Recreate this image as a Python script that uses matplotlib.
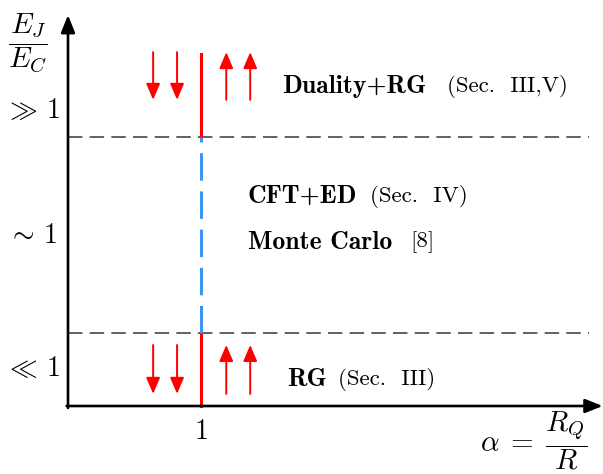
import matplotlib.pyplot as plt
import numpy as np

plt.rcParams['mathtext.fontset'] = 'cm'

# schematic phase diagram, x = alpha, y = E_J/E_C (arbitrary units)
alpha_c = 1.0
x_max = 4.02
y_max = 1.0
y_low = 0.187          # boundary of the E_J << E_C regime
y_high = 0.688         # boundary of the E_J >> E_C regime
line_top = 0.9
dash_end = 3.92

arrow_dx = [-0.36, -0.18, 0.19, 0.37]
arrow_dir = [-1, -1, 1, 1]
arrow_upper = (0.783, 0.905)
arrow_lower = (0.031, 0.156)

level_labels = [r'$\gg\,1$', r'$\sim\,1$', r'$\ll\,1$']
level_y = [0.757, 0.437, 0.097]

bold_texts = ['Duality+RG', 'CFT+ED', 'Monte Carlo', 'RG']
plain_texts = ['(Sec.  III,V)', '(Sec.  IV)', '[8]', '(Sec.  III)']
text_x = [1.609, 1.353, 1.353, 1.647]
plain_x = [2.85, 2.27, 2.571, 2.03]
text_y = [0.816, 0.535, 0.419, 0.069]

fig = plt.figure(figsize=(6.03, 4.74), dpi=100)
ax = fig.add_axes([0, 0, 1, 1])
ax.set_xlim(-68 / 133, (603 - 68) / 133)
ax.set_ylim(-(474 - 406) / 391, 406 / 391)
ax.axis('off')

# axes arrows
axis_style = dict(arrowstyle='-|>,head_length=0.75,head_width=0.3', color='black',
                  lw=1.9, mutation_scale=14, shrinkA=0, shrinkB=0)
ax.annotate('', xy=(x_max, 0), xytext=(-0.01, 0), arrowprops=axis_style)
ax.annotate('', xy=(0, y_max), xytext=(0, -0.005), arrowprops=axis_style)

# regime boundaries
for yb in [y_low, y_high]:
    ax.plot([0, dash_end], [yb, yb], color='#555555', lw=1.3, dashes=(8, 4), zorder=1)

# critical line at alpha = 1
ax.plot([alpha_c, alpha_c], [0, y_low], color='red', lw=2.2, zorder=2)
ax.plot([alpha_c, alpha_c], [y_high, line_top], color='red', lw=2.2, zorder=2)
ax.plot([alpha_c, alpha_c], [y_low, y_high], color='#3a96f0', lw=2.2,
        dashes=(9, 3.5), zorder=2)

# flow arrows
flow_style = dict(arrowstyle='-|>,head_length=0.7,head_width=0.3', color='red',
                  lw=1.4, mutation_scale=14, shrinkA=0, shrinkB=0)
for lo, hi in [arrow_upper, arrow_lower]:
    for dx, d in zip(arrow_dx, arrow_dir):
        x = alpha_c + dx
        if d < 0:
            ax.annotate('', xy=(x, lo), xytext=(x, hi), arrowprops=flow_style)
        else:
            ax.annotate('', xy=(x, hi), xytext=(x, lo), arrowprops=flow_style)

# labels
for lab, y in zip(level_labels, level_y):
    ax.text(-0.265, y, lab, fontsize=20, ha='center', va='center')
ax.text(-0.30, 0.928, r'$\dfrac{E_J}{E_C}$', fontsize=21, ha='center', va='center')
ax.text(alpha_c, -0.063, r'$1$', fontsize=20, ha='center', va='center')
ax.text(3.50, -0.088, r'$\alpha\;=\;\dfrac{R_Q}{R}$', fontsize=21, ha='center', va='center')

for b, p, xb, xp, y in zip(bold_texts, plain_texts, text_x, plain_x, text_y):
    ax.text(xb, y, b, family='cmb10', fontsize=18.5, ha='left', va='center')
    ax.text(xp, y, p, family='cmr10', fontsize=16.5, ha='left', va='center')

fig.savefig('out.png', dpi=100)
